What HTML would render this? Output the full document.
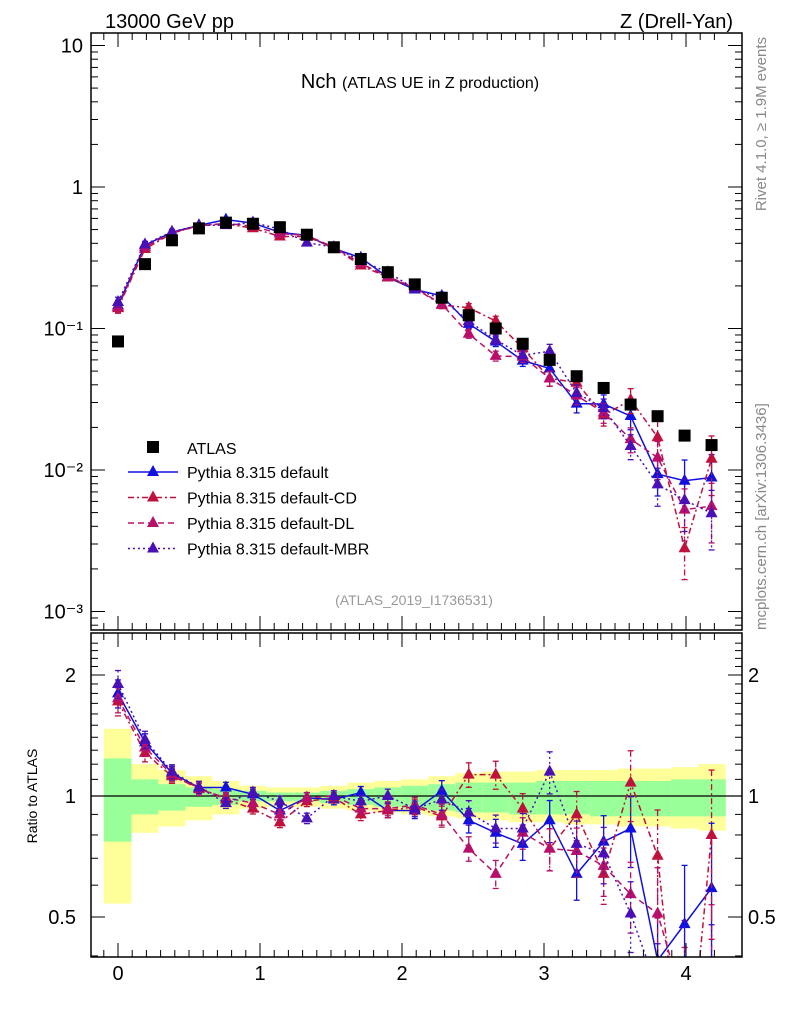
<!DOCTYPE html>
<html><head><meta charset="utf-8">
<style>
html,body{margin:0;padding:0;background:#fff;width:786px;height:1024px;overflow:hidden;}
svg{display:block;font-family:"Liberation Sans",sans-serif;}
</style></head>
<body>
<svg id="chart" width="786" height="1024" viewBox="0 0 786 1024">
<defs>
<clipPath id="clipMain"><rect x="91" y="33" width="651" height="597"/></clipPath>
<clipPath id="clipRatio"><rect x="91" y="633" width="651" height="324"/></clipPath>
</defs>
<g id="bands" clip-path="url(#clipRatio)"></g>
<g id="ratioLines" clip-path="url(#clipRatio)"></g>
<g id="mainLines" clip-path="url(#clipMain)"></g>
<g id="axes"></g>
<text x="105" y="28" font-size="20">13000 GeV pp</text>
<text x="733" y="28" font-size="20" text-anchor="end">Z (Drell-Yan)</text>
<text x="420" y="88" font-size="20" text-anchor="middle">Nch <tspan font-size="16">(ATLAS UE in Z production)</tspan></text>
<text x="414" y="605" font-size="14" fill="#999" text-anchor="middle">(ATLAS_2019_I1736531)</text>
<text transform="translate(766,37) rotate(-90)" font-size="15" fill="#888" text-anchor="end">Rivet 4.1.0, ≥ 1.9M events</text>
<text transform="translate(766,630) rotate(-90)" font-size="15" fill="#888">mcplots.cern.ch [arXiv:1306.3436]</text>
<text transform="translate(37,796) rotate(-90)" font-size="14" text-anchor="middle">Ratio to ATLAS</text>
<g id="legend"></g>
</svg>
<script>
const xs = [0,0.19,0.38,0.57,0.76,0.95,1.14,1.33,1.52,1.71,1.9,2.09,2.28,2.47,2.66,2.85,3.04,3.23,3.42,3.61,3.8,3.99,4.18];
const atlas = [0.081,0.285,0.42,0.51,0.56,0.55,0.52,0.46,0.375,0.31,0.25,0.205,0.165,0.124,0.1,0.078,0.06,0.046,0.038,0.029,0.024,0.0175,0.015];
const rDefault = [1.8,1.36,1.14,1.05,1.05,1.01,0.92,0.99,0.98,1.02,0.92,0.92,1.03,0.87,0.81,0.76,0.87,0.64,0.77,0.83,0.39,0.48,0.59];
const rCD = [1.72,1.28,1.12,1.05,0.98,0.93,0.86,0.97,0.99,0.9,0.92,0.94,0.89,1.13,1.13,0.93,0.74,0.9,0.64,1.08,0.71,0.16,0.8];
const rDL = [1.75,1.32,1.13,1.04,0.99,0.96,0.9,0.99,1.0,0.93,0.93,0.95,0.9,0.74,0.64,0.81,0.74,0.73,0.67,0.57,0.51,0.3,0.37];
const rMBR = [1.9,1.38,1.15,1.05,0.96,1.02,0.97,0.88,1.0,0.97,1.0,0.93,0.98,0.91,0.83,0.83,1.15,0.76,0.72,0.51,0.33,0.35,0.33];
const relErr = [0.08,0.05,0.04,0.035,0.03,0.03,0.03,0.03,0.03,0.035,0.04,0.045,0.06,0.07,0.08,0.09,0.12,0.14,0.16,0.2,0.3,0.4,0.45];
const yelUp = [1.47,1.2,1.16,1.12,1.09,1.06,1.05,1.05,1.06,1.08,1.09,1.1,1.12,1.14,1.15,1.15,1.16,1.16,1.16,1.17,1.17,1.18,1.2];
const yelDn = [0.54,0.81,0.84,0.87,0.9,0.93,0.94,0.94,0.93,0.92,0.91,0.9,0.89,0.88,0.87,0.86,0.86,0.85,0.85,0.84,0.84,0.83,0.82];
const grnUp = [1.24,1.1,1.07,1.05,1.04,1.03,1.02,1.02,1.03,1.04,1.05,1.06,1.07,1.08,1.08,1.08,1.09,1.09,1.09,1.09,1.09,1.1,1.1];
const grnDn = [0.77,0.9,0.92,0.94,0.95,0.97,0.97,0.97,0.96,0.95,0.94,0.93,0.92,0.91,0.91,0.9,0.9,0.9,0.89,0.89,0.89,0.89,0.89];
const xTicks = [0,1,2,3,4];
const mainTicks = [[10,"10"],[1,"1"],[0.1,"10⁻¹"],[0.01,"10⁻²"],[0.001,"10⁻³"]];
const ratioTicks = [2,1,0.5];

const NS="http://www.w3.org/2000/svg";
const X=v=>118+142*v;
const YM=v=>187-141.5*Math.log10(v);
const YR=r=>796-121*Math.log2(r);
function el(tag,attrs,parent){const e=document.createElementNS(NS,tag);for(const k in attrs)e.setAttribute(k,attrs[k]);parent.appendChild(e);return e;}
const series=[
 {name:"default",r:rDefault,color:"#1010e0",dash:"",label:"Pythia 8.315 default"},
 {name:"default-cd",r:rCD,color:"#c0103c",dash:"6,3,2,3",label:"Pythia 8.315 default-CD"},
 {name:"default-dl",r:rDL,color:"#b8106a",dash:"6,4",label:"Pythia 8.315 default-DL"},
 {name:"default-mbr",r:rMBR,color:"#4a10b8",dash:"2,3",label:"Pythia 8.315 default-MBR"}];
const bands=document.getElementById('bands');
const edges=xs.map((x,i)=>i==0?-0.1:(xs[i-1]+x)/2);edges.push(4.28);
for(let i=0;i<xs.length;i++){
 const x0=X(edges[i]),x1=X(edges[i+1]);
 const y=el('rect',{x:x0,y:YR(yelUp[i]),width:x1-x0,height:YR(yelDn[i])-YR(yelUp[i]),fill:"#ffff99"},bands);
 
 
 const g=el('rect',{x:x0,y:YR(grnUp[i]),width:x1-x0,height:YR(grnDn[i])-YR(grnUp[i]),fill:"#99ff99"},bands);
 
 
}
el('line',{x1:91,x2:742,y1:YR(1),y2:YR(1),stroke:"#000","stroke-width":1.3},bands);
function tri(p,cx,cy,c){const t=el('polygon',{points:`${cx},${cy-7} ${cx-6},${cy+4} ${cx+6},${cy+4}`,fill:c},p);return t;}
function drawSeries(parent,s,ys,errs){
 const g=el('g',{},parent);
 
 
 el('polyline',{points:xs.map((x,i)=>X(x)+","+ys[i]).join(" "),fill:"none",stroke:s.color,"stroke-width":1.5,"stroke-dasharray":s.dash},g);
 xs.forEach((x,i)=>{
  el('line',{x1:X(x),x2:X(x),y1:errs[i][0],y2:errs[i][1],stroke:s.color,"stroke-width":1.3,"stroke-dasharray":s.dash},g);
  el('line',{x1:X(x)-3,x2:X(x)+3,y1:errs[i][0],y2:errs[i][0],stroke:s.color,"stroke-width":1.3},g);
  el('line',{x1:X(x)-3,x2:X(x)+3,y1:errs[i][1],y2:errs[i][1],stroke:s.color,"stroke-width":1.3},g);
  const t=tri(g,X(x),ys[i],s.color);
  
  
 });
}
const rl=document.getElementById('ratioLines'),ml=document.getElementById('mainLines');
series.forEach(s=>{
 drawSeries(rl,s,s.r.map(YR),s.r.map((r,i)=>[YR(r*(1+relErr[i])),YR(Math.max(r*(1-relErr[i]),0.01))]));
 const v=s.r.map((r,i)=>r*atlas[i]);
 drawSeries(ml,s,v.map(YM),v.map((r,i)=>[YM(r*(1+relErr[i])),YM(Math.max(r*(1-relErr[i]),1e-5))]));
});
xs.forEach((x,i)=>{
 const r=el('rect',{x:X(x)-6,y:YM(atlas[i])-6,width:12,height:12,fill:"#000"},ml);
 
 
});
const ax=document.getElementById('axes');
el('rect',{x:91,y:33,width:651,height:597,fill:"none",stroke:"#000","stroke-width":1.5},ax);
el('rect',{x:91,y:633,width:651,height:324,fill:"none",stroke:"#000","stroke-width":1.5},ax);
for(let v=-0.1;v<=4.3;v+=0.1){
 const vv=Math.round(v*10)/10;const major=Math.abs(vv-Math.round(vv))<1e-6;const L=major?14:7;const px=X(vv);
 if(px<92||px>741)continue;
 [[33,1],[630,-1],[633,1],[957,-1]].forEach(([y,d])=>el('line',{x1:px,x2:px,y1:y,y2:y+d*L,stroke:"#000","stroke-width":1},ax));
}
xTicks.forEach(t=>{const tx=el('text',{x:X(t),y:980,"font-size":20,"text-anchor":"middle"},ax);tx.textContent=t;
 });
for(let e=-4;e<=1;e++)for(let m=1;m<10;m++){const v=m*Math.pow(10,e);const y=YM(v);if(y<34||y>629)continue;const L=m==1?14:7;
 el('line',{x1:91,x2:91+L,y1:y,y2:y,stroke:"#000"},ax);el('line',{x1:742,x2:742-L,y1:y,y2:y,stroke:"#000"},ax);}
mainTicks.forEach(([v,l])=>{const t=el('text',{x:83,y:YM(v)+7,"font-size":20,"text-anchor":"end"},ax);t.textContent=l;
 });
for(let r=0.4;r<=2.5;r+=0.1){const rr=Math.round(r*10)/10;const y=YR(rr);if(y<634||y>956)continue;const major=ratioTicks.includes(rr);const L=major?14:7;
 el('line',{x1:91,x2:91+L,y1:y,y2:y,stroke:"#000"},ax);el('line',{x1:742,x2:742-L,y1:y,y2:y,stroke:"#000"},ax);}
ratioTicks.forEach(r=>{const a=el('text',{x:76,y:YR(r)+7,"font-size":20,"text-anchor":"end"},ax);a.textContent=r;
 
 const b=el('text',{x:748,y:YR(r)+7,"font-size":20},ax);b.textContent=r;
 });
const lg=document.getElementById('legend');
const sq=el('rect',{x:147,y:441,width:12,height:12,fill:"#000"},lg);
const at=el('text',{x:187,y:454,"font-size":16},lg);at.textContent="ATLAS";

series.forEach((s,i)=>{const y=472+i*25.5;
 el('line',{x1:128,x2:178,y1:y,y2:y,stroke:s.color,"stroke-width":1.5,"stroke-dasharray":s.dash},lg);
 tri(lg,153,y,s.color);
 const t=el('text',{x:187,y:y+6,"font-size":16},lg);t.textContent=s.label;
 });
</script>
</body></html>
